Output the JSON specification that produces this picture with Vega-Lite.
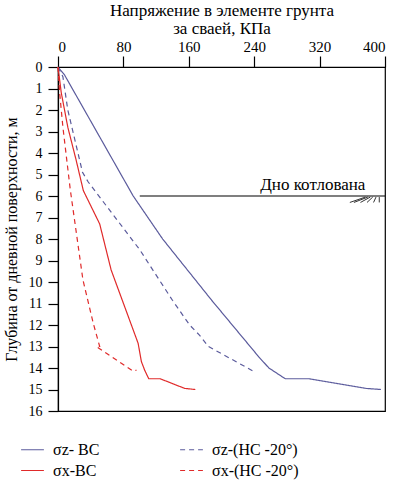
{
  "$schema": "https://vega.github.io/schema/vega-lite/v6.json",
  "width": 327,
  "height": 344,
  "autosize": {"type": "none"},
  "padding": {"left": 58, "top": 67, "right": 14, "bottom": 69},
  "background": "white",
  "config": {
    "view": {"stroke": "black", "strokeWidth": 1.2},
    "font": "Times New Roman, serif",
    "axis": {"labelOverlap": false, "labelBound": false},
    "axisY": {"labelOverlap": false}
  },
  "datasets": {
    "curves": [
      {"s": "σz- ВС", "i": 0, "x": 0, "d": 0},
      {"s": "σz- ВС", "i": 1, "x": 8, "d": 0.37},
      {"s": "σz- ВС", "i": 2, "x": 92, "d": 6.0},
      {"s": "σz- ВС", "i": 3, "x": 128, "d": 8.0},
      {"s": "σz- ВС", "i": 4, "x": 188, "d": 10.85},
      {"s": "σz- ВС", "i": 5, "x": 246, "d": 13.5},
      {"s": "σz- ВС", "i": 6, "x": 258, "d": 14.0},
      {"s": "σz- ВС", "i": 7, "x": 278, "d": 14.5},
      {"s": "σz- ВС", "i": 8, "x": 307, "d": 14.5},
      {"s": "σz- ВС", "i": 9, "x": 377, "d": 14.95},
      {"s": "σz- ВС", "i": 10, "x": 395, "d": 15.0},
      {"s": "σz-(НС -20°)", "i": 0, "x": 0, "d": 0},
      {"s": "σz-(НС -20°)", "i": 1, "x": 6, "d": 0.45},
      {"s": "σz-(НС -20°)", "i": 2, "x": 12, "d": 2.0},
      {"s": "σz-(НС -20°)", "i": 3, "x": 30, "d": 4.9},
      {"s": "σz-(НС -20°)", "i": 4, "x": 37, "d": 5.35},
      {"s": "σz-(НС -20°)", "i": 5, "x": 100, "d": 8.5},
      {"s": "σz-(НС -20°)", "i": 6, "x": 140, "d": 10.85},
      {"s": "σz-(НС -20°)", "i": 7, "x": 161, "d": 12.0},
      {"s": "σz-(НС -20°)", "i": 8, "x": 173, "d": 12.47},
      {"s": "σz-(НС -20°)", "i": 9, "x": 184, "d": 13.0},
      {"s": "σz-(НС -20°)", "i": 10, "x": 240, "d": 14.17},
      {"s": "σx-ВС", "i": 0, "x": 0, "d": 0},
      {"s": "σx-ВС", "i": 1, "x": 4, "d": 1.2},
      {"s": "σx-ВС", "i": 2, "x": 12, "d": 2.8},
      {"s": "σx-ВС", "i": 3, "x": 22, "d": 4.3},
      {"s": "σx-ВС", "i": 4, "x": 31, "d": 5.75},
      {"s": "σx-ВС", "i": 5, "x": 51, "d": 7.3},
      {"s": "σx-ВС", "i": 6, "x": 65, "d": 9.44},
      {"s": "σx-ВС", "i": 7, "x": 98, "d": 12.85},
      {"s": "σx-ВС", "i": 8, "x": 102, "d": 13.7},
      {"s": "σx-ВС", "i": 9, "x": 106, "d": 14.1},
      {"s": "σx-ВС", "i": 10, "x": 111, "d": 14.5},
      {"s": "σx-ВС", "i": 11, "x": 125, "d": 14.5},
      {"s": "σx-ВС", "i": 12, "x": 155, "d": 14.95},
      {"s": "σx-ВС", "i": 13, "x": 168, "d": 15.0},
      {"s": "σx-(НС -20°)", "i": 0, "x": 0, "d": 0},
      {"s": "σx-(НС -20°)", "i": 1, "x": 2, "d": 1.2},
      {"s": "σx-(НС -20°)", "i": 2, "x": 6, "d": 2.8},
      {"s": "σx-(НС -20°)", "i": 3, "x": 15, "d": 5.7},
      {"s": "σx-(НС -20°)", "i": 4, "x": 30.5, "d": 9.9},
      {"s": "σx-(НС -20°)", "i": 5, "x": 43, "d": 11.9},
      {"s": "σx-(НС -20°)", "i": 6, "x": 51, "d": 13.0},
      {"s": "σx-(НС -20°)", "i": 7, "x": 47, "d": 13.0},
      {"s": "σx-(НС -20°)", "i": 8, "x": 92, "d": 14.15},
      {"s": "σx-(НС -20°)", "i": 9, "x": 96, "d": 14.1}
    ],
    "hatch": [
      {"x": 357, "d": 6.3, "x2": 376, "d2": 6.05},
      {"x": 362, "d": 6.3, "x2": 379, "d2": 6.05},
      {"x": 370, "d": 6.3, "x2": 382, "d2": 6.05},
      {"x": 378, "d": 6.3, "x2": 385, "d2": 6.05},
      {"x": 386, "d": 6.3, "x2": 389, "d2": 6.05},
      {"x": 393, "d": 6.3, "x2": 393, "d2": 6.05}
    ],
    "pit": [{"x": 100, "x2": 400, "d": 6.0, "label": "Дно котлована", "tx": 376}]
  },
  "layer": [
    {
      "data": {"name": "curves"},
      "mark": {"type": "line", "strokeWidth": 1.2},
      "encoding": {
        "x": {
          "field": "x", "type": "quantitative",
          "scale": {"domain": [0, 400], "nice": false, "zero": false},
          "axis": {
            "orient": "top",
            "values": [0, 40, 80, 120, 160, 200, 240, 280, 320, 360, 400],
            "labelExpr": "datum.value % 80 == 0 ? datum.label : ''",
            "labelOverlap": false,
            "grid": false,
            "tickSize": 11,
            "tickColor": "black",
            "domainColor": "black",
            "tickWidth": 1.2,
            "domainWidth": 1.2,
            "labelFont": "Times New Roman, serif",
            "labelFontSize": 15,
            "labelColor": "black",
            "labelPadding": 2,
            "title": ["Напряжение в элементе грунта", "за сваей, КПа"],
            "titleFont": "Times New Roman, serif",
            "titleFontSize": 17,
            "titleFontWeight": "normal",
            "titleColor": "black",
            "titleLineHeight": 18,
            "titlePadding": 2
          }
        },
        "y": {
          "field": "d", "type": "quantitative",
          "scale": {"domain": [0, 16], "reverse": true, "nice": false},
          "axis": {
            "values": [0, 1, 2, 3, 4, 5, 6, 7, 8, 9, 10, 11, 12, 13, 14, 15, 16],
            "tickCount": 17,
            "labelOverlap": false,
            "labelBound": false,
            "grid": false,
            "tickSize": 10,
            "tickColor": "black",
            "domainColor": "black",
            "tickWidth": 1.2,
            "domainWidth": 1.2,
            "labelFont": "Times New Roman, serif",
            "labelFontSize": 14,
            "labelColor": "black",
            "labelPadding": 6,
            "title": "Глубина от дневной поверхности, м",
            "titleFont": "Times New Roman, serif",
            "titleFontSize": 16,
            "titleFontWeight": "normal",
            "titleColor": "black",
            "titlePadding": 9
          }
        },
        "order": {"field": "i", "type": "quantitative"},
        "color": {
          "field": "s", "type": "nominal",
          "scale": {
            "domain": ["σz- ВС", "σx-ВС", "σz-(НС -20°)", "σx-(НС -20°)"],
            "range": ["#5b5b9c", "#e02a2a", "#5b5b9c", "#e02a2a"]
          },
          "legend": {
            "title": null,
            "orient": "none",
            "legendX": -38,
            "legendY": 370,
            "columns": 2,
            "gridAlign": "all",
            "columnPadding": 37,
            "rowPadding": -2,
            "symbolType": "stroke",
            "symbolSize": 520,
            "symbolStrokeWidth": 1.2,
            "labelFont": "Times New Roman, serif",
            "labelFontSize": 16,
            "labelColor": "black",
            "labelOffset": 8,
            "labelLimit": 200
          }
        },
        "strokeDash": {
          "field": "s", "type": "nominal",
          "scale": {
            "domain": ["σz- ВС", "σx-ВС", "σz-(НС -20°)", "σx-(НС -20°)"],
            "range": [[1, 0], [1, 0], [5, 4], [5, 4]]
          },
          "legend": null
        }
      }
    },
    {
      "data": {"name": "pit"},
      "mark": {"type": "rule", "color": "black", "strokeWidth": 1.2},
      "encoding": {
        "x": {"field": "x", "type": "quantitative"},
        "x2": {"field": "x2"},
        "y": {"field": "d", "type": "quantitative"}
      }
    },
    {
      "data": {"name": "pit"},
      "mark": {"type": "text", "align": "right", "baseline": "bottom", "dy": -2, "fontSize": 17, "color": "black", "font": "Times New Roman, serif"},
      "encoding": {
        "x": {"field": "tx", "type": "quantitative"},
        "y": {"field": "d", "type": "quantitative"},
        "text": {"field": "label"}
      }
    },
    {
      "data": {"name": "hatch"},
      "mark": {"type": "rule", "color": "black", "strokeWidth": 0.8},
      "encoding": {
        "x": {"field": "x", "type": "quantitative"},
        "x2": {"field": "x2"},
        "y": {"field": "d", "type": "quantitative"},
        "y2": {"field": "d2"}
      }
    }
  ]
}
